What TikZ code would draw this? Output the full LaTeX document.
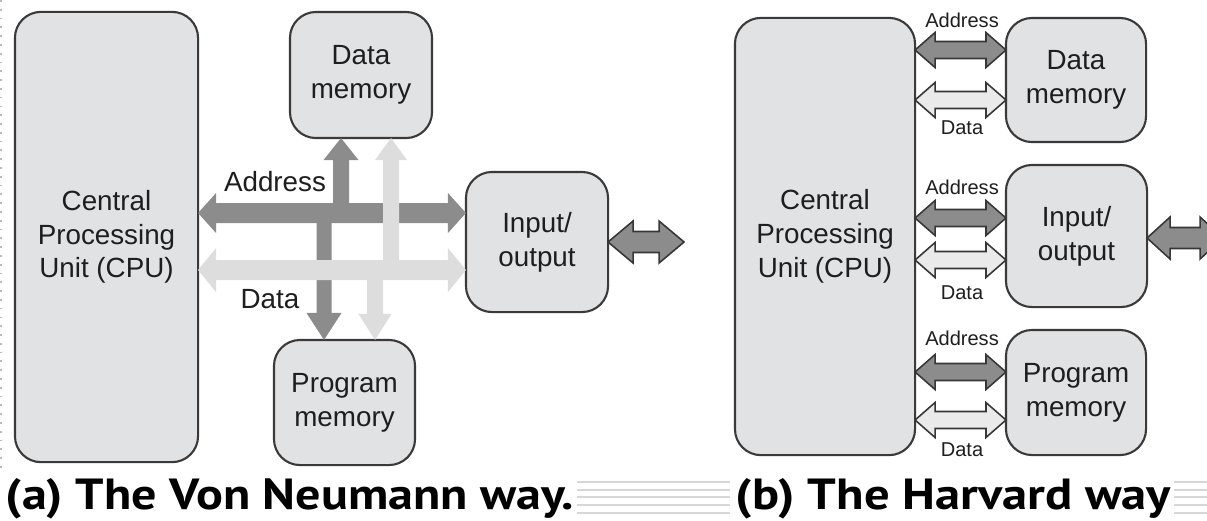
\documentclass[tikz,border=0pt]{standalone}
\usepackage{fontspec}
\usepackage{graphicx}
\setmainfont{Liberation Sans}
\newfontfamily\capfont{PT Sans}
\usetikzlibrary{calc}

\definecolor{boxfill}{RGB}{225,226,228}
\definecolor{boxline}{RGB}{58,58,58}
\definecolor{darkbus}{RGB}{140,140,140}
\definecolor{lightbus}{RGB}{221,221,221}
\definecolor{hdata}{RGB}{234,234,234}
\definecolor{busline}{RGB}{55,55,55}
\definecolor{inktext}{RGB}{30,30,30}
\definecolor{capline}{RGB}{215,215,215}

\newcommand\lblfont{\fontsize{7.9}{9.6}\selectfont}
\newcommand\smallfont{\fontsize{5.7}{6.5}\selectfont}

% double-headed block arrow between two named points
% #1 style, #2 end A, #3 end B, #4 shaft half width, #5 head half width, #6 head length
\newcommand\biarrow[6]{%
  \coordinate (hda) at ($(#2)!#6!(#3)$);
  \coordinate (hdb) at ($(#3)!#6!(#2)$);
  \path[#1] (#2) -- ($(hda)!#5!90:(#3)$) -- ($(hda)!#4!90:(#3)$)
    -- ($(hdb)!#4!-90:(#2)$) -- ($(hdb)!#5!-90:(#2)$) -- (#3)
    -- ($(hdb)!#5!90:(#2)$) -- ($(hdb)!#4!90:(#2)$)
    -- ($(hda)!#4!-90:(#3)$) -- ($(hda)!#5!-90:(#3)$) -- cycle;}

% single-headed block arrow, tail #2, tip #3
\newcommand\sarrow[6]{%
  \coordinate (hdb) at ($(#3)!#6!(#2)$);
  \path[#1] ($(#2)!#4!90:(#3)$) -- ($(hdb)!#4!-90:(#2)$) -- ($(hdb)!#5!-90:(#2)$)
    -- (#3) -- ($(hdb)!#5!90:(#2)$) -- ($(hdb)!#4!90:(#2)$)
    -- ($(#2)!#4!-90:(#3)$) -- cycle;}

\begin{document}
\begin{tikzpicture}[x=0.01cm, y=-0.01cm,
  unit/.style={draw=boxline, fill=boxfill, rounded corners=0.26cm, line width=0.6pt,
    inner sep=0pt, outer sep=0pt, align=center, text=inktext, font=\lblfont},
  buslabel/.style={inner sep=0pt, text=inktext, font=\lblfont},
  hlabel/.style={inner sep=0pt, text=inktext, font=\smallfont},
  vnaddr/.style={fill=darkbus},
  vndata/.style={fill=lightbus},
  haddr/.style={fill=darkbus, draw=busline, line width=0.45pt, line join=miter},
  hdatabus/.style={fill=hdata, draw=busline, line width=0.45pt, line join=miter},
  caption/.style={anchor=base west, inner sep=0pt, text=black},
  rule/.style={draw=capline, line width=0.45pt}]

\useasboundingbox (0,0) rectangle (1207,520);

% dotted left margin
\draw[dotted, draw=gray!55, line width=0.5pt] (1,0) -- (1,470);

% ---------- (a) Von Neumann ----------
\node[unit, minimum width=1.83cm, minimum height=4.50cm] (cpuA) at (106.5,237)
  {Central\\Processing\\Unit (CPU)};
\node[unit, minimum width=1.42cm, minimum height=1.26cm] (dmA) at (361,75) {Data\\memory};
\node[unit, minimum width=1.41cm, minimum height=1.25cm] (pmA) at (344.5,402.5) {Program\\memory};
\node[unit, minimum width=1.42cm, minimum height=1.40cm] (ioA) at (537,242) {Input/\\output};

\coordinate (vaddr) at (0,213);
\coordinate (vdata) at (0,270);
\coordinate (a1) at (cpuA.east |- vaddr);
\coordinate (a2) at (ioA.west |- vaddr);
\coordinate (d1) at (cpuA.east |- vdata);
\coordinate (d2) at (ioA.west |- vdata);
\coordinate (u1) at (341,213);
\coordinate (u2) at (u1 |- dmA.south);
\coordinate (w1) at (324,213);
\coordinate (w2) at (w1 |- pmA.north);
\coordinate (lu1) at (391,270);
\coordinate (lu2) at (lu1 |- dmA.south);
\coordinate (ld1) at (375,270);
\coordinate (ld2) at (ld1 |- pmA.north);

% address paths (dark)
\sarrow{vnaddr}{u1}{u2}{0.08cm}{0.175cm}{0.22cm}
\sarrow{vnaddr}{w1}{w2}{0.075cm}{0.175cm}{0.27cm}
\biarrow{vnaddr}{a1}{a2}{0.10cm}{0.20cm}{0.18cm}
% data paths (light)
\sarrow{vndata}{lu1}{lu2}{0.08cm}{0.16cm}{0.22cm}
\sarrow{vndata}{ld1}{ld2}{0.08cm}{0.165cm}{0.26cm}
\biarrow{vndata}{d1}{d2}{0.10cm}{0.22cm}{0.18cm}

\node[buslabel] (addrA) at (275,182) {Address};
\node[buslabel] (dataA) at (270,299) {Data};

% external port
\coordinate (xa1) at (ioA.east);
\coordinate (xa2) at ($(ioA.east)+(76,0)$);
\biarrow{haddr}{xa1}{xa2}{0.105cm}{0.21cm}{0.25cm}

% ---------- (b) Harvard ----------
\node[unit, minimum width=1.80cm, minimum height=4.37cm] (cpuB) at (825,236.5)
  {Central\\Processing\\Unit (CPU)};
\node[unit, minimum width=1.40cm, minimum height=1.24cm] (dmB) at (1076,80) {Data\\memory};
\node[unit, minimum width=1.41cm, minimum height=1.42cm] (ioB) at (1076.5,236) {Input/\\output};
\node[unit, minimum width=1.40cm, minimum height=1.25cm] (pmB) at (1076,392.5) {Program\\memory};

\foreach \m/\ya/\yd/\la/\ld in {dmB/50/100/20/128, ioB/218/260/187/293, pmB/372/420/338/450} {
  \coordinate (ya) at (0,\ya);
  \coordinate (yd) at (0,\yd);
  \coordinate (\m-a1) at (cpuB.east |- ya);
  \coordinate (\m-a2) at (\m.west |- ya);
  \coordinate (\m-d1) at (cpuB.east |- yd);
  \coordinate (\m-d2) at (\m.west |- yd);
  \biarrow{haddr}{\m-a1}{\m-a2}{0.085cm}{0.175cm}{0.20cm}
  \biarrow{hdatabus}{\m-d1}{\m-d2}{0.085cm}{0.175cm}{0.20cm}
  \node[hlabel] (\m-la) at (962,\la) {Address};
  \node[hlabel] (\m-ld) at (962,\ld) {Data};
}

% external port, running off the edge
\begin{scope}
  \clip (0,0) rectangle (1207,520);
  \coordinate (xb1) at (ioB.east |- 0,238);
  \coordinate (xb2) at ($(xb1)+(76,0)$);
  \biarrow{haddr}{xb1}{xb2}{0.105cm}{0.21cm}{0.23cm}
\end{scope}

% ---------- captions ----------
\node[caption] (capA) at (5,509)
  {\resizebox{5.68cm}{0.31cm}{\capfont\bfseries (a) The Von Neumann way.}};
\node[caption] (capB) at (735,509)
  {\resizebox{4.35cm}{0.31cm}{\capfont\bfseries (b) The Harvard way}};

\foreach \y in {482,490,497,505,513} {
  \draw[rule] (577,\y) -- (730,\y);
  \draw[rule] (1174,\y) -- (1207,\y);
}
\end{tikzpicture}
\end{document}
